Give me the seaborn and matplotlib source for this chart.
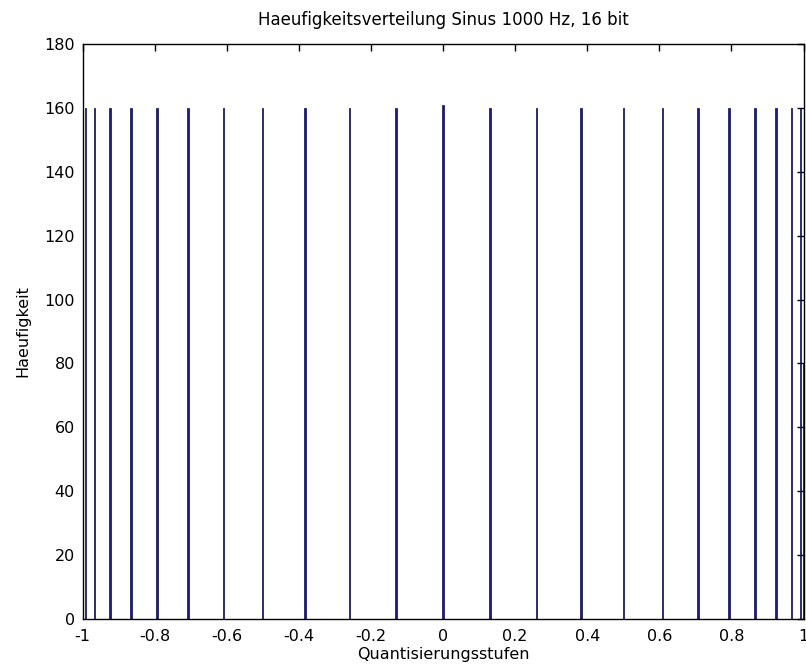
import numpy as np
import pandas as pd
import matplotlib
matplotlib.use("Agg")
import matplotlib.pyplot as plt
import seaborn as sns

# Quantization levels (sine sampled at 48 points per period) and their counts
levels = [-1.0, -0.9914, -0.9659, -0.9239, -0.8660, -0.7934, -0.7071, -0.6088,
          -0.5, -0.3827, -0.2588, -0.1305, 0.0, 0.1305, 0.2588, 0.3827, 0.5,
          0.6088, 0.7071, 0.7934, 0.8660, 0.9239, 0.9659, 0.9914, 1.0]
counts = [80, 160, 160, 160, 160, 160, 160, 160,
          160, 160, 160, 160, 161, 160, 160, 160, 160,
          160, 160, 160, 160, 160, 160, 160, 80]
xticks = [-1, -0.8, -0.6, -0.4, -0.2, 0, 0.2, 0.4, 0.6, 0.8, 1]
xticklabels = ["-1", "-0.8", "-0.6", "-0.4", "-0.2", "0", "0.2", "0.4", "0.6", "0.8", "1"]
yticks = [0, 20, 40, 60, 80, 100, 120, 140, 160, 180]

sns.set_style("white")
plt.rcParams['font.family'] = ['DejaVu Sans']
plt.rcParams['text.color'] = 'black'
plt.rcParams['axes.labelcolor'] = 'black'

df = pd.DataFrame({"level": levels, "count": counts})

fig = plt.figure(figsize=(8.06, 6.70), dpi=100)
ax = fig.add_axes([82.5/806, 51/670, 721/806, 575/670])

sns.barplot(data=df, x="level", y="count", native_scale=True, width=0.45,
            color="#1a1a88", saturation=1, edgecolor="#0a0a55", linewidth=0.5,
            ax=ax)

ax.set_xlim(-1, 1)
ax.set_ylim(0, 180)
ax.set_xticks(xticks)
ax.set_xticklabels(xticklabels)
ax.set_yticks(yticks)
ax.tick_params(direction="in", top=True, right=True, length=5, width=1,
               labelsize=11.5, colors="black")
ax.tick_params(axis="x", pad=7)
ax.tick_params(axis="y", pad=5.5)
for s in ax.spines.values():
    s.set_visible(True)
    s.set_color("black")
    s.set_linewidth(1)

ax.set_title("Haeufigkeitsverteilung Sinus 1000 Hz, 16 bit", fontsize=12, pad=14,
             color="black")
ax.set_xlabel("Quantisierungsstufen", fontsize=11.5, labelpad=2)
ax.set_ylabel("Haeufigkeit", fontsize=11.5, labelpad=10)

fig.savefig("out.png", dpi=100)
